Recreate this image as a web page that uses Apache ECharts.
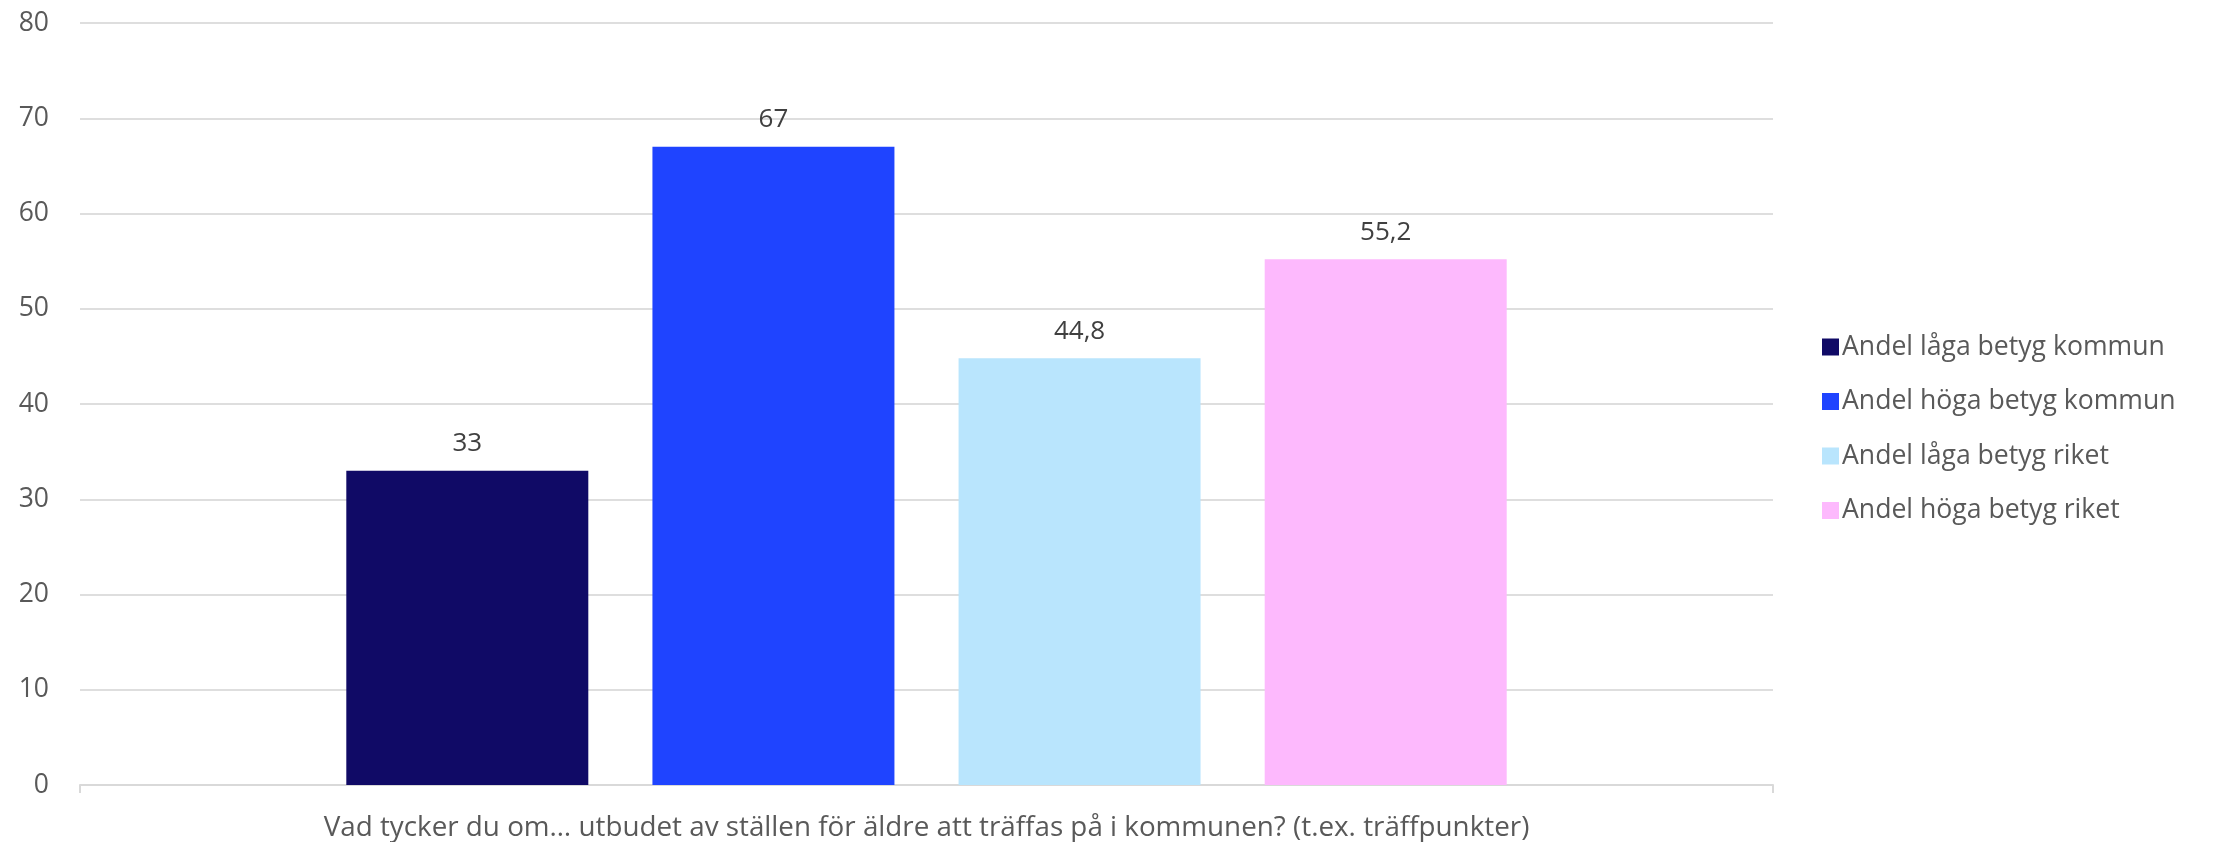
<!DOCTYPE html>
<html>
<head>
<meta charset="utf-8">
<script src="https://cdn.jsdelivr.net/npm/echarts@6/dist/echarts.min.js"></script>
<style>
html,body{margin:0;padding:0;background:#fff;}
#chart{width:2219px;height:842px;}
</style>
</head>
<body>
<div id="chart"></div>
<script>
const categories = ["Vad tycker du om… utbudet av ställen för äldre att träffas på i kommunen? (t.ex. träffpunkter)"];
const seriesNames = ["Andel låga betyg kommun", "Andel höga betyg kommun", "Andel låga betyg riket", "Andel höga betyg riket"];
const lowKommun = [33];
const highKommun = [67];
const lowRiket = [44.8];
const highRiket = [55.2];
const seriesValues = [lowKommun, highKommun, lowRiket, highRiket];
const colors = ["#100A66", "#1F44FF", "#B9E5FD", "#FDB9FD"];
const yTicks = [0, 10, 20, 30, 40, 50, 60, 70, 80];

const FONT = "Open Sans";
const chart = echarts.init(document.getElementById('chart'));
chart.setOption({
  animation: false,
  backgroundColor: '#ffffff',
  textStyle: { fontFamily: FONT },
  grid: { left: 80, right: 2219 - 1773, top: 23, bottom: 842 - 785, containLabel: false },
  legend: {
    orient: 'vertical',
    left: 1817,
    top: 327,
    itemWidth: 17,
    itemHeight: 17,
    itemGap: 24.5,
    icon: 'rect',
    textStyle: { fontFamily: FONT, fontSize: 26.6, color: '#595959', lineHeight: 30, padding: [0, 0, 0, -2] },
    data: seriesNames
  },
  xAxis: {
    type: 'category',
    data: categories,
    axisLine: { show: true, lineStyle: { color: '#d9d9d9', width: 2 } },
    axisTick: { show: true, length: 8, lineStyle: { color: '#d9d9d9', width: 2 } },
    axisLabel: { fontFamily: FONT, fontSize: 27.8, color: '#595959', margin: 29 }
  },
  yAxis: {
    type: 'value',
    min: yTicks[0],
    max: yTicks[yTicks.length - 1],
    interval: 10,
    axisLine: { show: false },
    axisTick: { show: false },
    splitLine: { lineStyle: { color: '#dedede', width: 2 } },
    axisLabel: { fontFamily: FONT, fontSize: 26.5, color: '#595959', margin: 31 }
  },
  series: seriesNames.map((name, i) => ({
    name: name,
    type: 'bar',
    data: seriesValues[i],
    barWidth: 242,
    barGap: '26.5%',
    itemStyle: { color: colors[i] },
    label: {
      show: true,
      position: 'top',
      distance: 14,
      fontFamily: FONT,
      fontSize: 26,
      color: '#404040',
      formatter: p => String(p.value).replace('.', ',')
    }
  }))
});
</script>
</body>
</html>
